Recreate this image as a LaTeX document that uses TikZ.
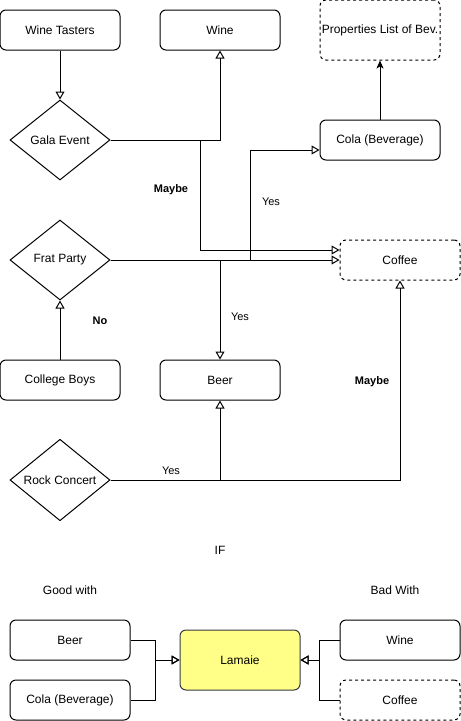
\documentclass[tikz,border=0pt]{standalone}
\usepackage{fontspec}
\setmainfont{Liberation Sans}
\usetikzlibrary{shapes.geometric,arrows.meta,calc}
\begin{document}
\begin{tikzpicture}[x=1pt,y=-1pt,
  every node/.style={font=\fontsize{12}{14}\selectfont},
  box/.style={draw,rounded corners=6pt,line width=1pt,minimum width=120pt,minimum height=40pt,inner sep=0pt},
  dbox/.style={box,dash pattern=on 3pt off 3pt},
  dia/.style={draw,diamond,line width=1pt,minimum width=100pt,minimum height=80pt,inner sep=0pt},
  conn/.style={line width=1pt},
  oarr/.style={conn,-{Triangle[open,length=8pt,width=9pt]}},
  farr/.style={conn,-{Stealth[length=8pt,width=7pt,inset=2pt]}},
  lbl/.style={font=\fontsize{11}{13}\selectfont},
  blbl/.style={font=\fontsize{11}{13}\selectfont\bfseries},
]
\useasboundingbox (0,0) rectangle (461,721);
% top part
\node[box] (wt) at (60,30) {Wine Tasters};
\node[box] (wine) at (220,30) {Wine};
\node[dbox,minimum height=60pt] (props) at (380,30) {Properties List of Bev.};
\node[dia] (gala) at (60,140) {Gala Event};
\node[box] (cola) at (380,140) {Cola (Beverage)};
\node[dia] (frat) at (60,260) {Frat Party};
\node[dbox] (coffee) at (400,260) {Coffee};
\node[box] (cb) at (60,380) {College Boys};
\node[box] (beer) at (220,380) {Beer};
\node[dia] (rock) at (60,480) {Rock Concert};
% connectors
\draw[oarr] (wt.south) -- (gala.north);
\draw[oarr] (gala.east) -| (wine.south);
\draw[oarr] (gala.east) -- (200,140) |- ($(coffee.west)+(0,-10)$);
\draw[oarr] (frat.east) -- (coffee.west);
\draw[oarr] (frat.east) -- (250,260) |- ($(cola.west)+(0,10)$);
\draw[oarr] (frat.east) -| (beer.north);
\draw[oarr] (cb.north) -- (frat.south);
\draw[oarr] (rock.east) -| (beer.south);
\draw[oarr] (rock.east) -| (coffee.south);
\draw[farr] (cola.north) -- (props.south);
% labels
\node[blbl] (l1) at (171,190) {Maybe};
\node[lbl] (l2) at (271,202) {Yes};
\node[lbl] (l3) at (240,317) {Yes};
\node[blbl] (l4) at (100,321) {No};
\node[blbl] (l5) at (372,382) {Maybe};
\node[lbl] (l6) at (171,471) {Yes};
% bottom part
\node (if) at (220,550) {IF};
\node (gw) at (70,590) {Good with};
\node (bw) at (395,590) {Bad With};
\node[box] (beer2) at (70,640) {Beer};
\node[box] (cola2) at (70,700) {Cola (Beverage)};
\node[box,minimum height=60pt,fill={rgb,255:red,255;green,255;blue,136},draw={rgb,255:red,54;green,57;blue,61}] (lam) at (240,660) {Lamaie};
\node[box] (wine2) at (400,640) {Wine};
\node[dbox] (coffee2) at (400,700) {Coffee};
\draw[oarr] (beer2.east) -- ++(25,0) |- (lam.west);
\draw[oarr] (cola2.east) -- ++(25,0) |- (lam.west);
\draw[oarr] (wine2.west) -- ++(-20,0) |- (lam.east);
\draw[oarr] (coffee2.west) -- ++(-20,0) |- (lam.east);
\end{tikzpicture}
\end{document}
